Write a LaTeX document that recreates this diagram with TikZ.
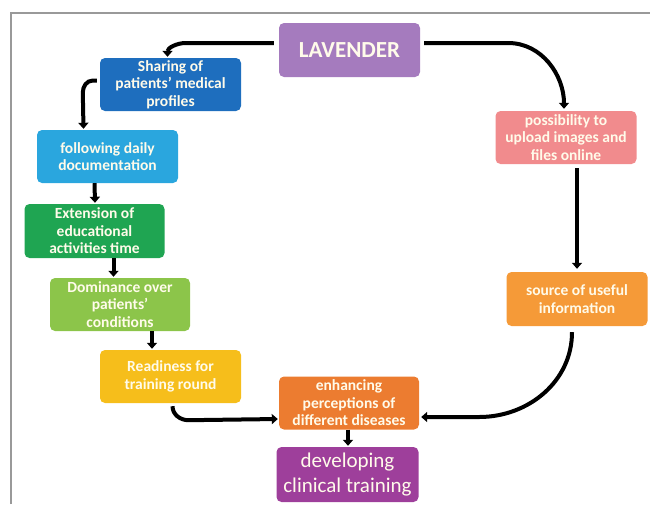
\documentclass[tikz,border=0pt]{standalone}
\usepackage{fontspec}
\setmainfont{Carlito}
\usetikzlibrary{arrows.meta}
\definecolor{cLav}{HTML}{A57BBE}
\definecolor{cShare}{HTML}{1E6EBE}
\definecolor{cFollow}{HTML}{2AA6DE}
\definecolor{cExt}{HTML}{1FA552}
\definecolor{cDom}{HTML}{8CC54A}
\definecolor{cReady}{HTML}{F6BE1B}
\definecolor{cEnh}{HTML}{EC7C30}
\definecolor{cDev}{HTML}{9E3F9B}
\definecolor{cPoss}{HTML}{F18B8D}
\definecolor{cSrc}{HTML}{F59A38}
\definecolor{cText}{HTML}{FFFBEA}
\tikzset{
  box/.style={rounded corners=5pt, minimum width=141pt, minimum height=53pt,
    inner sep=1pt, align=center, text=cText, font=\bfseries\fontsize{15.5}{17.5}\selectfont},
  arr/.style={line width=4pt, -{Triangle[width=10pt,length=6pt]}},
  frame/.style={draw=gray!80, line width=1.3pt}
}
\begin{document}
\begin{tikzpicture}[x=1pt,y=-1pt]
\useasboundingbox (0,0) rectangle (650,504);
\draw[frame] (11,504) -- (11,13) -- (650,13);

\node[box, fill=cLav, minimum height=54pt, font=\bfseries\fontsize{23}{26}\selectfont] (lav) at (349.5,50) {LAVENDER};
\node[box, fill=cShare] (share) at (170.5,84.5) {Sharing of\\patients’ medical\\profiles};
\node[box, fill=cFollow] (follow) at (107.5,156.5) {following daily\\documentation};
\node[box, fill=cExt, minimum width=140pt, minimum height=54pt] (ext) at (94.5,231) {Extension of\\educational\\activities time};
\node[box, fill=cDom, minimum width=140pt] (dom) at (120,304.5) {Dominance over\\patients’\\conditions};
\node[box, fill=cReady] (ready) at (170.5,376.5) {Readiness for\\training round};
\node[box, fill=cEnh, minimum width=140pt] (enh) at (349,403) {enhancing\\perceptions of\\different diseases};
\node[box, fill=cDev, minimum width=142pt, minimum height=55pt, font=\fontsize{21}{25}\selectfont] (dev) at (347.5,474.5) {developing\\clinical training};
\node[box, fill=cPoss] (poss) at (566,137.5) {possibility to\\upload images and\\files online};
\node[box, fill=cSrc, minimum height=54pt] (src) at (577,299) {source of useful\\information};

% connectors
\draw[arr] ([xshift=-5pt,yshift=7pt]lav.west) -- ++(-88,0) to[out=180,in=90] ([xshift=-3pt,yshift=1pt]share.north);
\draw[arr] ([xshift=4pt,yshift=7pt]lav.east) -- ++(84,0) to[out=0,in=90] ([xshift=-2pt,yshift=2pt]poss.north);
\draw[arr] ([xshift=-3pt,yshift=4pt]share.west) -- ++(-4,0) to[out=180,in=90] ++(-10,12) -- ([xshift=-24pt,yshift=1pt]follow.north);
\draw[arr] ([xshift=-13pt]follow.south) -- ([xshift=0.5pt,yshift=1pt]ext.north);
\draw[arr] ([xshift=19pt]ext.south) -- ([xshift=-6.5pt,yshift=1pt]dom.north);
\draw[arr] ([xshift=32pt]dom.south) -- ([xshift=-18.5pt,yshift=1pt]ready.north);
\draw[arr] ([xshift=11pt,yshift=-4pt]poss.south) -- ([yshift=3pt]src.north);
\draw[arr] ([xshift=2pt,yshift=-3pt]ready.south) to[out=-90,in=180] ++(16,14) -- ([xshift=-1pt,yshift=-16pt]enh.west);
\draw[arr] ([xshift=-5pt,yshift=-6pt]src.south) to[out=-90,in=0] ([xshift=60pt,yshift=-14pt]enh.east) -- ([xshift=2pt,yshift=-14pt]enh.east);
\draw[arr] ([xshift=-1pt]enh.south) -- ([xshift=0.5pt,yshift=1pt]dev.north);
\end{tikzpicture}
\end{document}
